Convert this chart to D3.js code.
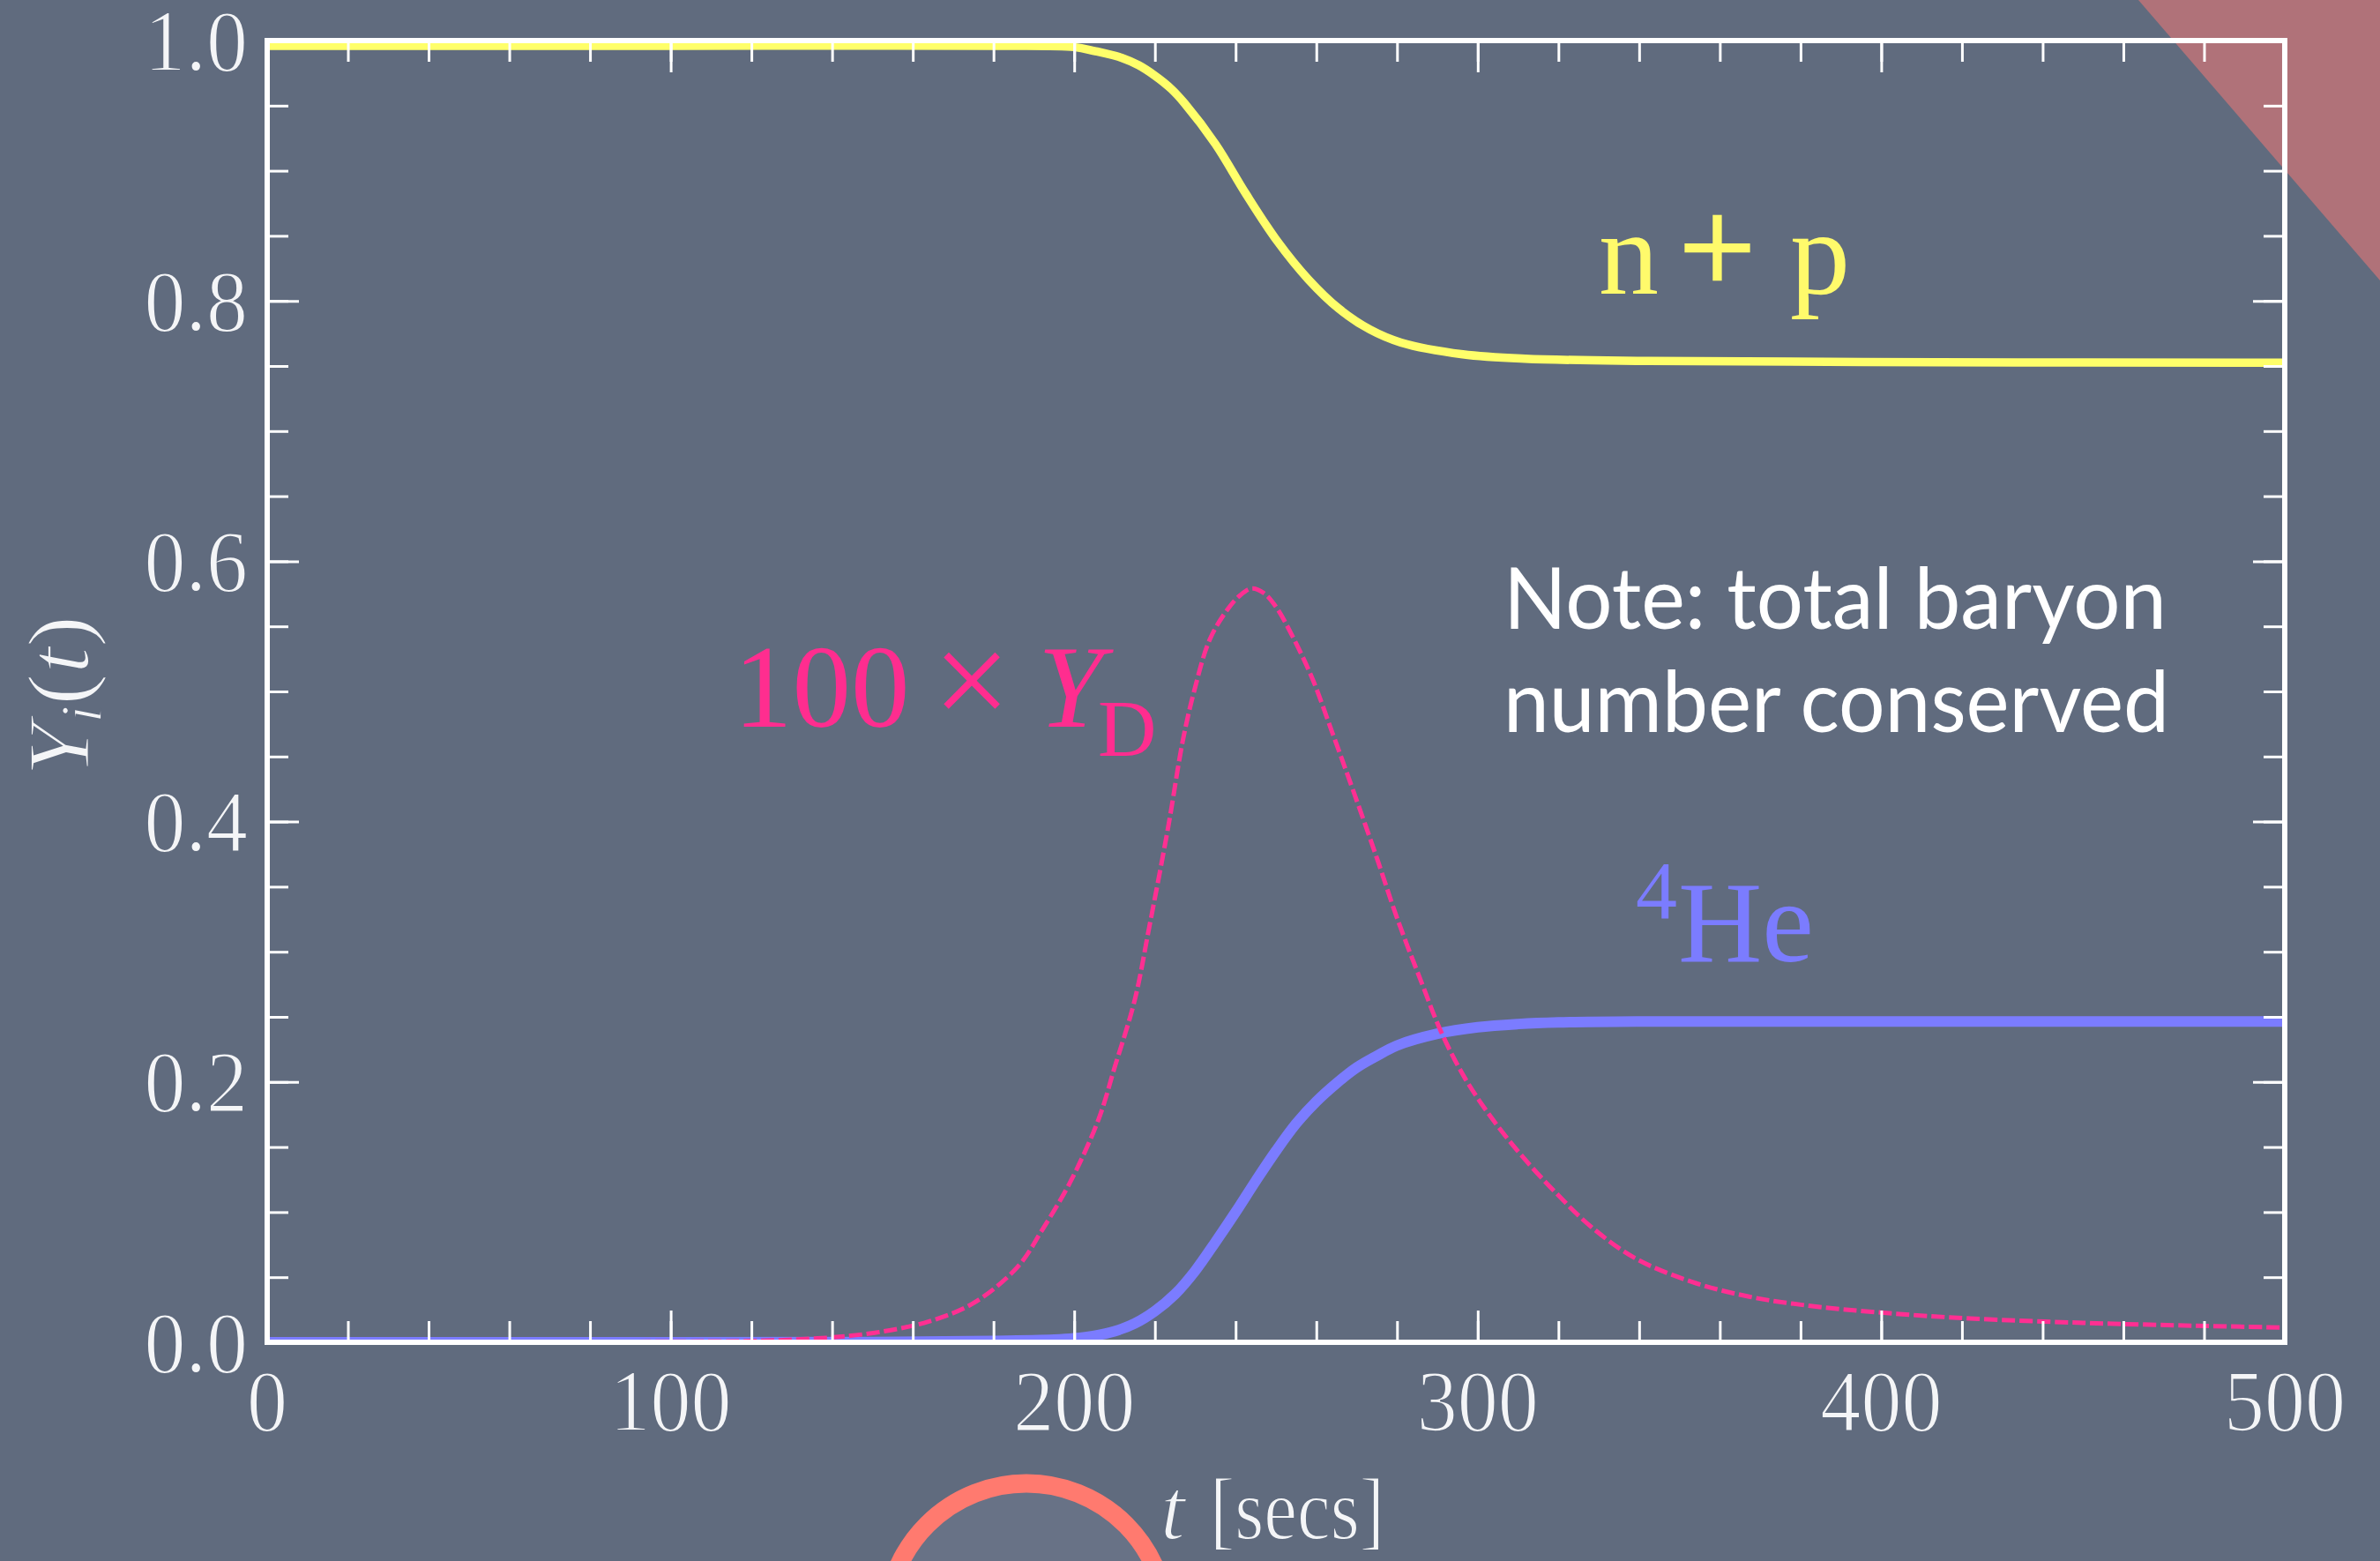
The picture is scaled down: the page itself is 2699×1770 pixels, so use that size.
<!DOCTYPE html>
<html><head><meta charset="utf-8">
<script src="https://cdn.jsdelivr.net/npm/d3@7/dist/d3.min.js"></script>
<style>html,body{margin:0;padding:0;background:#606b7e;overflow:hidden}</style>
</head><body><svg id="c" width="2699" height="1770"></svg>
<script>
// ---------- data ----------
const npTimes  = [0, 100, 180, 200, 205, 212, 216, 220, 224, 227.3, 235, 242.6, 250.3, 258, 265.6, 273.3, 281, 296.3, 311.7, 342.3, 414, 500];
const npValues = [0.996, 0.996, 0.996, 0.995, 0.992, 0.9865, 0.981, 0.973, 0.963, 0.952, 0.9205, 0.882, 0.846, 0.8166, 0.794, 0.778, 0.768, 0.759, 0.7556, 0.7539, 0.7529, 0.7525];

const heTimes  = [0, 100, 150, 180, 195, 200, 205, 210, 215, 220, 225, 230, 235, 240, 245, 250, 255, 260, 265, 270, 275, 280, 290, 300, 310, 320, 340, 400, 500];
const heValues = [0, 0, 0.0002, 0.001, 0.002, 0.003, 0.005, 0.0085, 0.0145, 0.024, 0.037, 0.055, 0.077, 0.100, 0.124, 0.147, 0.168, 0.185, 0.199, 0.211, 0.220, 0.228, 0.237, 0.242, 0.2445, 0.2458, 0.2465, 0.2465, 0.2465];

const dTimes  = [0, 100, 120, 130, 141, 152, 164, 175, 186, 192, 199, 206, 210, 215, 218.6, 223.3, 226.9, 229.7, 233.6, 238, 241, 244, 247, 250, 254, 259, 264, 269, 275, 280, 286, 291, 297, 304, 311, 319, 328, 339, 353, 367, 381, 400, 422, 450, 478, 500];
const dValues = [0, 0.0005, 0.001, 0.002, 0.004, 0.008, 0.016, 0.030, 0.058, 0.086, 0.123, 0.171, 0.211, 0.263, 0.319, 0.396, 0.462, 0.500, 0.540, 0.563, 0.5735, 0.579, 0.5755, 0.565, 0.543, 0.510, 0.468, 0.425, 0.372, 0.326, 0.277, 0.238, 0.202, 0.170, 0.143, 0.116, 0.089, 0.0646, 0.0465, 0.0352, 0.0285, 0.0228, 0.0183, 0.0149, 0.0127, 0.0113];

const xTickValues = [0, 100, 200, 300, 400, 500];
const xTickLabels = ["0", "100", "200", "300", "400", "500"];
const yTickValues = [0, 0.2, 0.4, 0.6, 0.8, 1.0];
const yTickLabels = ["0.0", "0.2", "0.4", "0.6", "0.8", "1.0"];
const xMinorStep = 20, yMinorStep = 0.05;

// ---------- setup ----------
const W = 2699, H = 1770;
const BG = "#606b7e";
const svg = d3.select("#c");
const x = d3.scaleLinear().domain([0, 500]).range([303, 2591]);
const y = d3.scaleLinear().domain([0, 1]).range([1522, 46]);
const serif = "'Liberation Serif','Times New Roman',serif";

svg.append("rect").attr("width", W).attr("height", H).attr("fill", BG);
// slide decoration (top-right triangle)
svg.append("path").attr("d", "M2425,0L2699,0L2699,318Z").attr("fill", "#b07279");

// clip
svg.append("defs").append("clipPath").attr("id", "plotclip")
  .append("rect").attr("x", x(0)).attr("y", y(1) - 10).attr("width", x(500) - x(0)).attr("height", y(0) - y(1) + 10);

const line = d3.line().x(d => x(d[0])).y(d => y(d[1])).curve(d3.curveCatmullRom.alpha(0.5));
const zip = (a, b) => a.map((v, i) => [v, b[i]]);

const plot = svg.append("g").attr("clip-path", "url(#plotclip)");
plot.append("path").datum(zip(npTimes, npValues)).attr("d", line)
  .attr("fill", "none").attr("stroke", "#ffff6a").attr("stroke-width", 9.5).attr("stroke-linejoin", "round");
plot.append("path").datum(zip(heTimes, heValues)).attr("d", line)
  .attr("fill", "none").attr("stroke", "#7b7cff").attr("stroke-width", 12).attr("stroke-linejoin", "round");
plot.append("path").datum(zip(dTimes, dValues)).attr("d", line)
  .attr("fill", "none").attr("stroke", "#ff2f92").attr("stroke-width", 5).attr("stroke-dasharray", "15,5");

// ---------- axes (ticks inward on all four sides) ----------
const xMinor = d3.range(0, 500 + 1e-9, xMinorStep);
const yMinor = d3.range(0, 1 + 1e-9, yMinorStep).map(v => +v.toFixed(2));
function styleAxis(g) {
  g.select(".domain").remove();
  g.selectAll(".tick line").attr("stroke", "#ffffff").attr("stroke-width", 3);
  g.selectAll(".tick text").remove();
}
const axes = [
  [d3.axisBottom(x), "translate(0," + y(0) + ")", xMinor, xTickValues],
  [d3.axisTop(x), "translate(0," + y(1) + ")", xMinor, xTickValues],
  [d3.axisLeft(y), "translate(" + x(0) + ",0)", yMinor, yTickValues],
  [d3.axisRight(y), "translate(" + x(500) + ",0)", yMinor, yTickValues]
];
axes.forEach(([ax, tr, minor, major]) => {
  svg.append("g").attr("transform", tr).call(ax.tickValues(minor).tickSize(-24).tickFormat("")).call(styleAxis);
  svg.append("g").attr("transform", tr).call(ax.tickValues(major).tickSize(-36).tickFormat("")).call(styleAxis);
});

// frame
svg.append("rect").attr("x", x(0)).attr("y", y(1)).attr("width", x(500) - x(0)).attr("height", y(0) - y(1))
  .attr("fill", "none").attr("stroke", "#ffffff").attr("stroke-width", 6);

// tick labels (thin, Computer-Modern-like look)
const lblFill = "#f4f5f7";
function thin(sel) { return sel.attr("stroke", BG).attr("stroke-width", 1.8).attr("paint-order", "normal"); }
svg.append("g").selectAll("text").data(xTickValues).join("text")
  .attr("transform", d => "translate(" + x(d) + ",1622) scale(0.93,1)")
  .attr("text-anchor", "middle").attr("font-family", serif).attr("font-size", 99)
  .attr("fill", lblFill).text((d, i) => xTickLabels[i]).call(thin);
svg.append("g").selectAll("text").data(yTickValues).join("text")
  .attr("transform", d => "translate(281," + (y(d) + 33.5) + ") scale(0.95,1)")
  .attr("text-anchor", "end").attr("font-family", serif).attr("font-size", 99)
  .attr("fill", lblFill).text((d, i) => yTickLabels[i]).call(thin);

// axis titles
const xt = svg.append("text").attr("font-family", serif).attr("font-size", 100).attr("fill", lblFill).call(thin);
xt.append("tspan").attr("x", 1316).attr("y", 1745).attr("font-style", "italic").text("t");
svg.append("text").attr("x", 1372).attr("y", 1745).attr("font-family", serif).attr("font-size", 100)
  .attr("fill", lblFill).attr("textLength", 198).attr("lengthAdjust", "spacingAndGlyphs").text("[secs]").call(thin);

const yt = svg.append("text").attr("transform", "translate(100,789) rotate(-90)")
  .attr("text-anchor", "middle").attr("font-family", serif).attr("font-size", 100).attr("fill", lblFill)
  .attr("textLength", 182).attr("lengthAdjust", "spacingAndGlyphs").call(thin);
yt.append("tspan").attr("font-style", "italic").text("Y");
yt.append("tspan").attr("font-style", "italic").attr("font-size", 68).attr("dy", 15).text("i");
yt.append("tspan").attr("dy", -15).text("(");
yt.append("tspan").attr("font-style", "italic").text("t");
yt.append("tspan").text(")");

// ---------- annotations ----------
const np = svg.append("text").attr("y", 333).attr("font-family", serif).attr("font-size", 136).attr("fill", "#fffa6b");
np.append("tspan").attr("x", 1813).text("n");
np.append("tspan").attr("x", 1904).attr("font-size", 154).attr("stroke", "#fffa6b").attr("stroke-width", 2.5).text("+");
np.append("tspan").attr("x", 2030).text("p");

const dl = svg.append("text").attr("y", 824).attr("font-family", serif).attr("font-size", 133).attr("fill", "#ff2d8f");
dl.append("tspan").attr("x", 832).text("100");
dl.append("tspan").attr("x", 1058).attr("font-size", 156).text("\u00d7");
dl.append("tspan").attr("x", 1177).attr("font-style", "italic").text("Y");
dl.append("tspan").attr("x", 1245).attr("y", 857).attr("font-size", 92).text("D");

const he = svg.append("text").attr("font-family", serif).attr("fill", "#7b7cff");
he.append("tspan").attr("x", 1855).attr("y", 1041).attr("font-size", 94).text("4");
he.append("tspan").attr("x", 1903).attr("y", 1090).attr("font-size", 132).text("He");

const note = svg.append("g").attr("font-family", "Lato,'Open Sans',sans-serif").attr("font-size", 96).attr("fill", "#ffffff");
note.append("text").attr("x", 1705).attr("y", 713).attr("textLength", 752).attr("lengthAdjust", "spacingAndGlyphs").text("Note: total baryon");
note.append("text").attr("x", 1705).attr("y", 830).attr("textLength", 755).attr("lengthAdjust", "spacingAndGlyphs").text("number conserved");

// slide decoration: hand-drawn circle at bottom
svg.append("circle").attr("cx", 1164).attr("cy", 1841).attr("r", 159)
  .attr("fill", "#687286").attr("stroke", "#ff7a6f").attr("stroke-width", 21);
</script>
</body></html>
